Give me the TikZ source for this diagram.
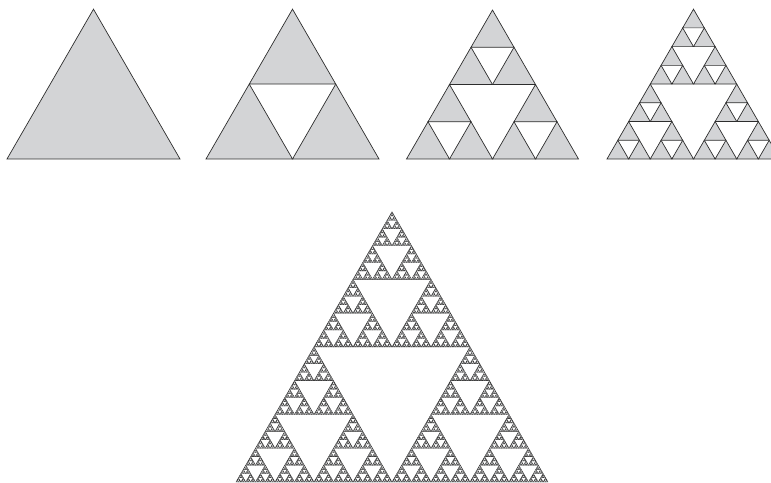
\documentclass[tikz,border=0pt]{standalone}
\usepackage{xcolor}
\usepackage{tikz}

\definecolor{trigray}{RGB}{211,212,214}
\definecolor{triline}{RGB}{45,45,45}

% #1 level, #2 left x, #3 base y, #4 side
\def\sierpinski#1#2#3#4{%
  \ifnum#1=0\relax
    \filldraw[tri] (#2,#3) -- (#2+#4,#3) -- (#2+#4/2,#3+#4*0.8660254) -- cycle;
  \else
    \begingroup
    \pgfmathsetmacro\halfside{#4/2}%
    \pgfmathsetmacro\midx{#2+#4/2}%
    \pgfmathsetmacro\quarterx{#2+#4/4}%
    \pgfmathsetmacro\midy{#3+#4*0.4330127}%
    \pgfmathtruncatemacro\lvl{#1-1}%
    \edef\next{%
      \noexpand\sierpinski{\lvl}{#2}{#3}{\halfside}%
      \noexpand\sierpinski{\lvl}{\midx}{#3}{\halfside}%
      \noexpand\sierpinski{\lvl}{\quarterx}{\midy}{\halfside}}%
    \next
    \endgroup
  \fi}

\begin{document}
\begin{tikzpicture}[x=1pt,y=1pt,
    tri/.style={fill=trigray,draw=triline,line width=0.7pt,line join=miter}]
  \useasboundingbox (0,0) rectangle (771,482);
  \clip (0,0) rectangle (771,482);

  % top row: steps 0 to 3
  \sierpinski{0}{7}{323}{173}
  \sierpinski{1}{206}{323}{173}
  \sierpinski{2}{406.5}{323}{172}
  \sierpinski{3}{607}{323}{173}

  % bottom: many steps
  \begin{scope}[tri/.append style={line width=0.35pt}]
    \sierpinski{7}{236}{0}{312}
  \end{scope}
\end{tikzpicture}
\end{document}
